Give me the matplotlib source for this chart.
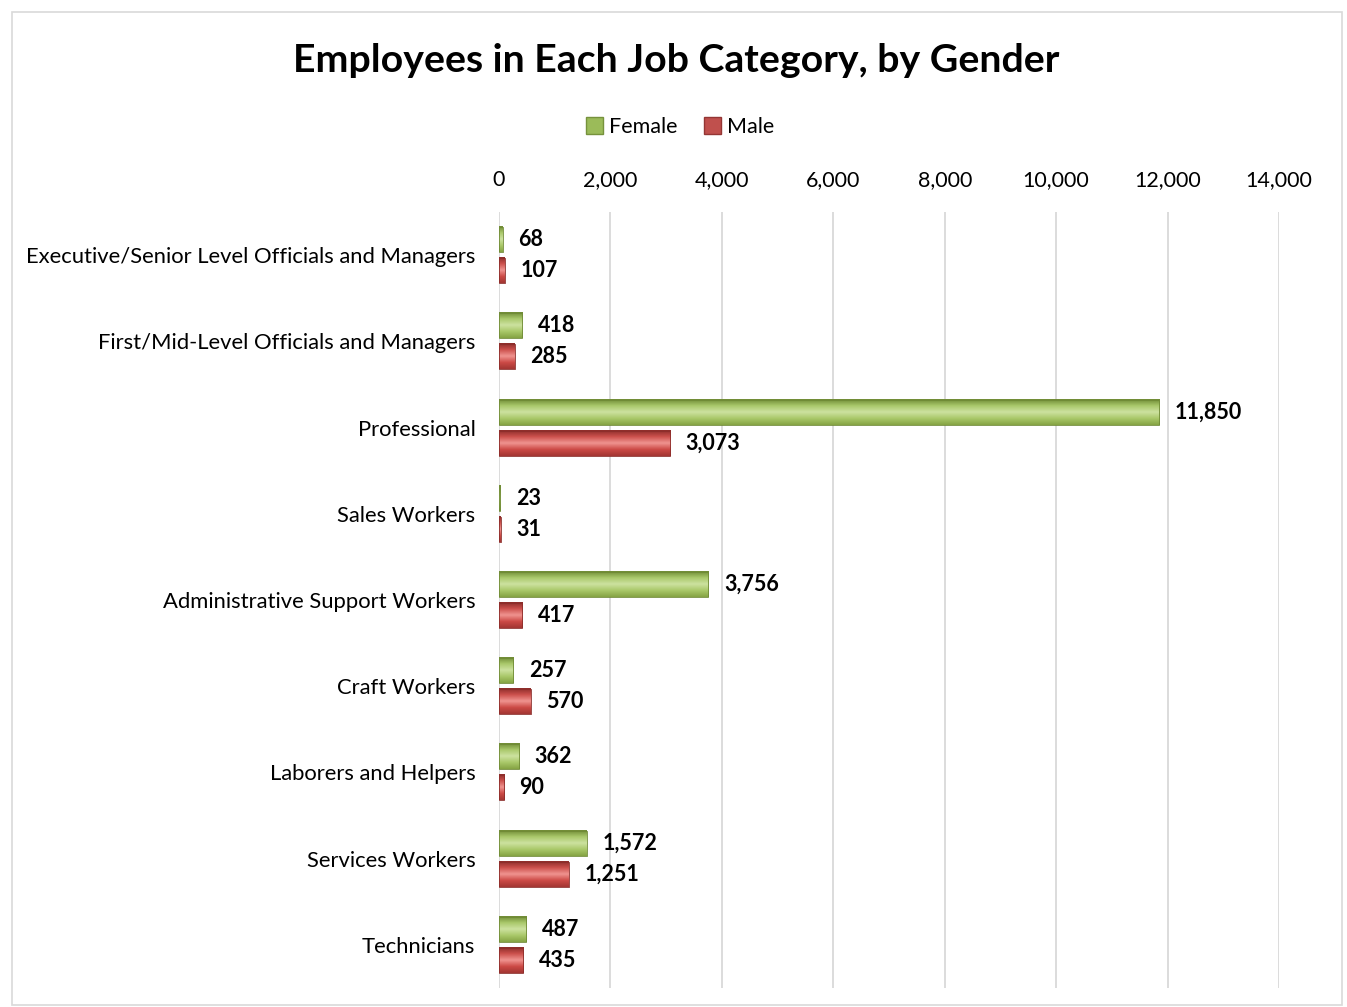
import numpy as np
import matplotlib.pyplot as plt
from matplotlib.colors import LinearSegmentedColormap
from matplotlib.patches import Rectangle

plt.rcParams['font.family'] = ['Lato', 'DejaVu Sans']

categories = ['Executive/Senior Level Officials and Managers',
              'First/Mid-Level Officials and Managers',
              'Professional',
              'Sales Workers',
              'Administrative Support Workers',
              'Craft Workers',
              'Laborers and Helpers',
              'Services Workers',
              'Technicians']
female = [68, 418, 11850, 23, 3756, 257, 362, 1572, 487]
male = [107, 285, 3073, 31, 417, 570, 90, 1251, 435]
xticks = [0, 2000, 4000, 6000, 8000, 10000, 12000, 14000]

green = LinearSegmentedColormap.from_list('g', ['#6f8a35', '#a9c86a', '#cde2a0', '#a9c869', '#86a444'])
red = LinearSegmentedColormap.from_list('r', ['#8c2d2a', '#cc514d', '#f09490', '#cc4a46', '#a33633'])

fig = plt.figure(figsize=(13.47, 10.07), dpi=100)
# chart border
fig.patches.append(Rectangle((12 / 1347, 2 / 1007), 1330 / 1347, 993 / 1007,
                             transform=fig.transFigure, fill=False,
                             edgecolor='#d9d9d9', linewidth=1.2))
ax = fig.add_axes([499 / 1347, 1 - 988 / 1007, 780 / 1347, 776 / 1007])

y = np.arange(len(categories))
h = 0.29
off = 0.18
grad = np.linspace(0, 1, 64).reshape(-1, 1)


def bevel_bar(v, yc, cmap):
    # vertical gradient clipped to the bar rectangle
    ax.imshow(grad, cmap=cmap, aspect='auto', interpolation='bilinear',
              extent=[0, v, yc + h / 2, yc - h / 2], zorder=3)
    ax.add_patch(Rectangle((0, yc - h / 2), v, h, fill=False,
                           edgecolor=cmap(0.0), linewidth=0.6, zorder=4))


for i in range(len(categories)):
    bevel_bar(female[i], y[i] - off, green)
    bevel_bar(male[i], y[i] + off, red)
    ax.text(female[i] + 280, y[i] - off, f'{female[i]:,}', va='center', ha='left',
            fontsize=15.5, fontweight='bold', zorder=5)
    ax.text(male[i] + 280, y[i] + off, f'{male[i]:,}', va='center', ha='left',
            fontsize=15.5, fontweight='bold', zorder=5)

ax.set_xlim(0, 14000)
ax.set_ylim(len(categories) - 0.5, -0.5)
ax.set_xticks(xticks)
ax.set_xticklabels([f'{t:,}' for t in xticks], fontsize=15.5)
ax.xaxis.tick_top()
ax.set_yticks(y)
ax.set_yticklabels(categories, fontsize=15.8)
ax.tick_params(length=0, pad=17, axis='y')
ax.tick_params(length=0, pad=16, axis='x')
ax.grid(axis='x', color='#d9d9d9', linewidth=1.3, zorder=0)
ax.set_axisbelow(True)
for s in ax.spines.values():
    s.set_visible(False)

fig.text(676 / 1347, 1 - 61 / 1007, 'Employees in Each Job Category, by Gender',
         ha='center', va='center', fontsize=28.3, fontweight='bold')

# legend with small bevelled squares
handles = [Rectangle((0, 0), 1, 1, facecolor='#9bbb59', edgecolor='#76923c'),
           Rectangle((0, 0), 1, 1, facecolor='#c0504d', edgecolor='#943634')]
fig.legend(handles, ['Female', 'Male'], loc='center', bbox_to_anchor=(680 / 1347, 1 - 127 / 1007),
           ncol=2, frameon=False, fontsize=15.5, handlelength=0.8, handleheight=0.8,
           handletextpad=0.3, columnspacing=1.2)

fig.savefig('out.png', dpi=100)
